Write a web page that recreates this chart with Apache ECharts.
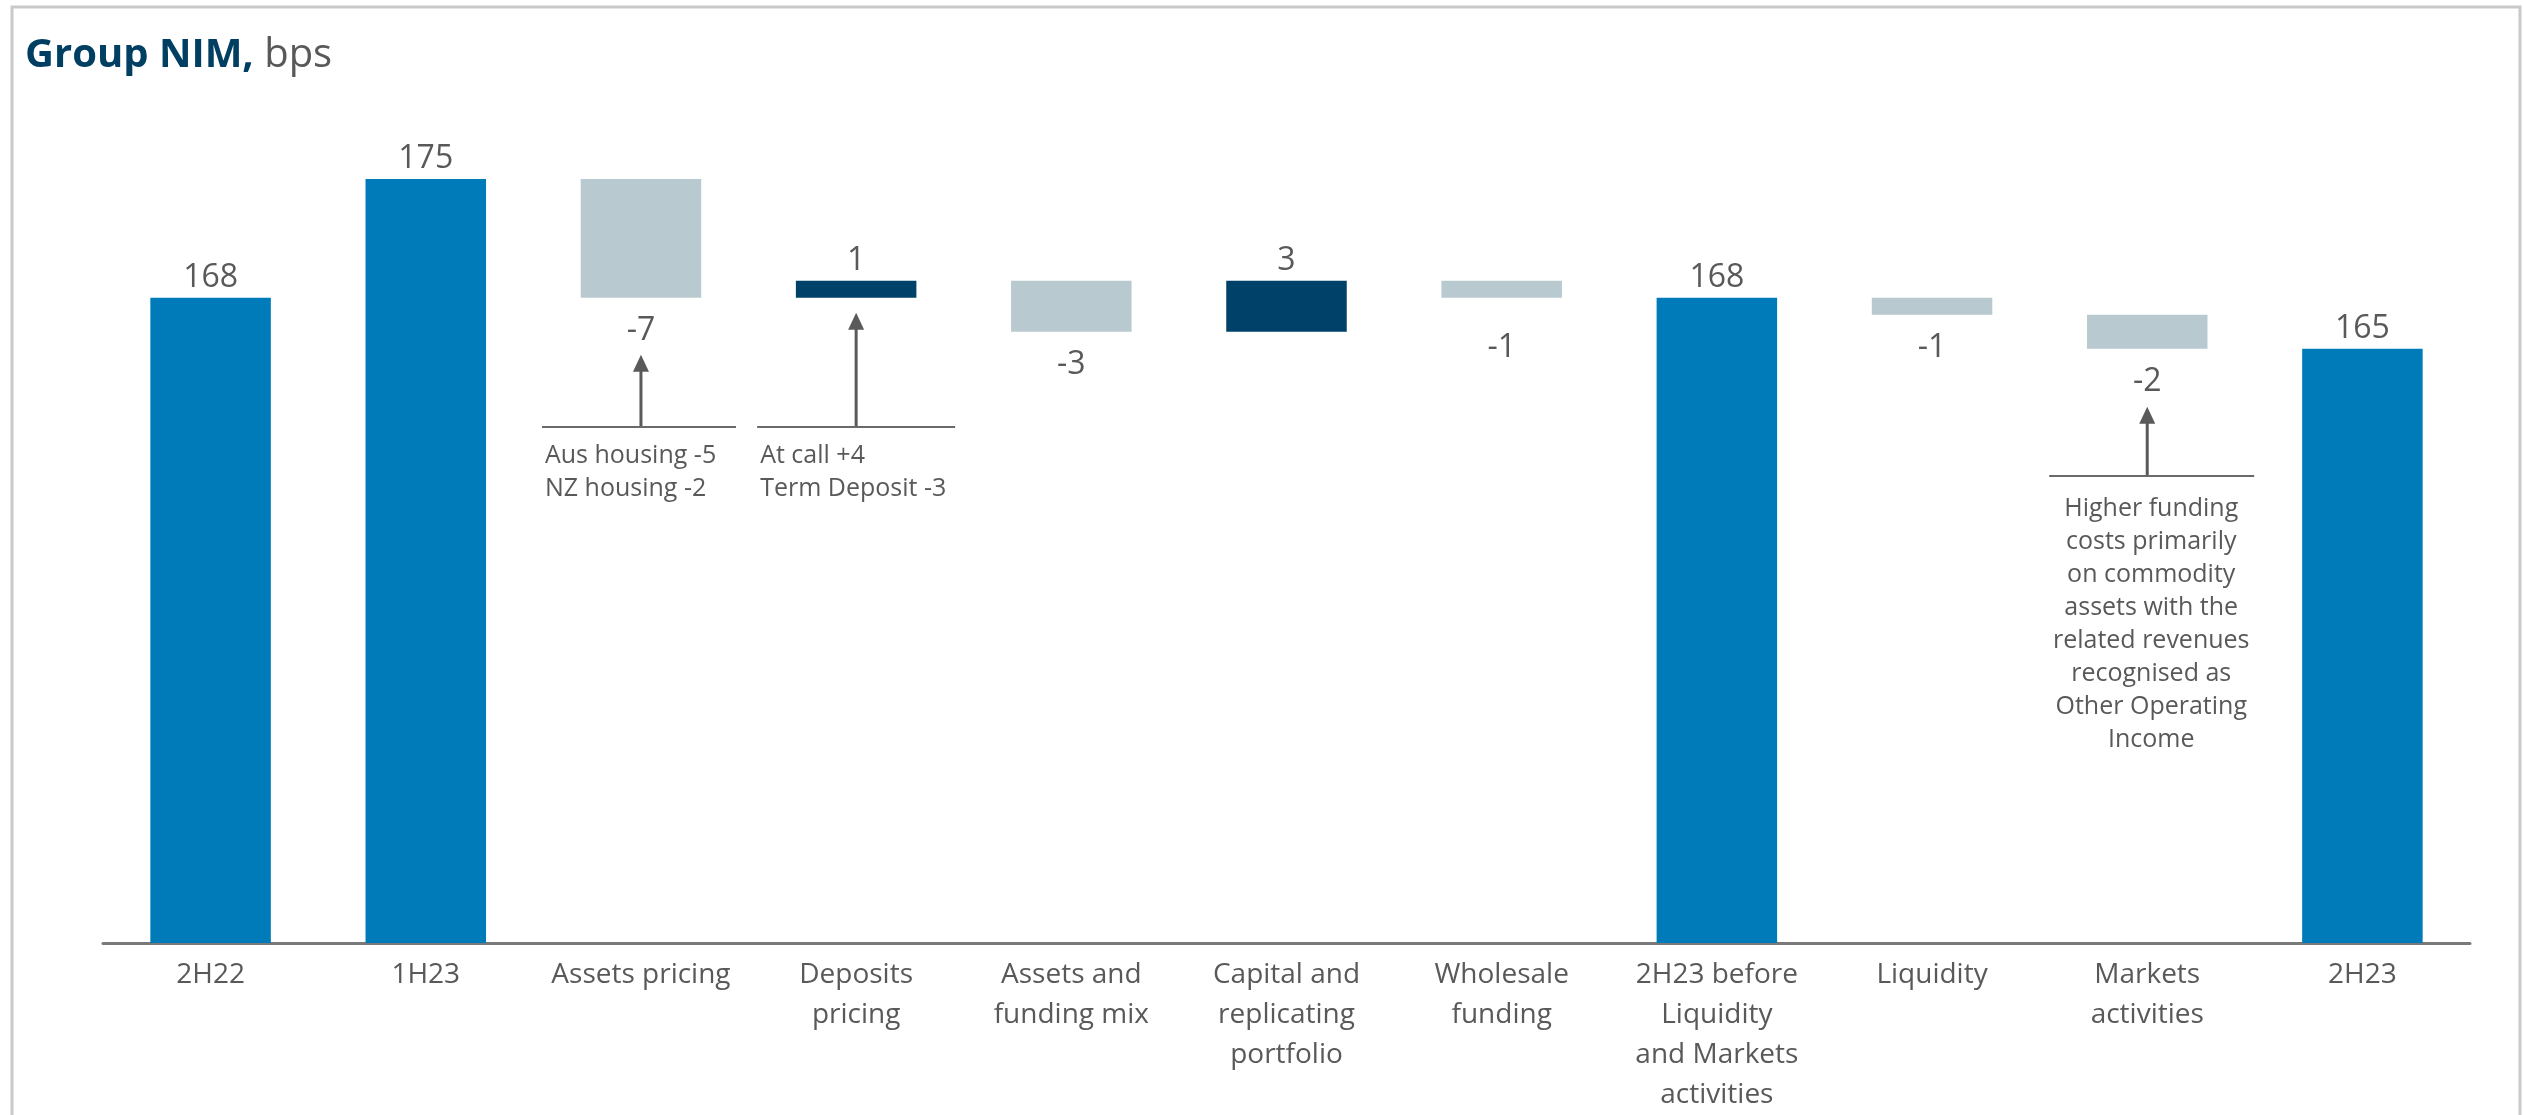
<!DOCTYPE html>
<html><head><meta charset="utf-8">
<script src="https://cdn.jsdelivr.net/npm/echarts@6/dist/echarts.min.js"></script>
<style>html,body{margin:0;padding:0;background:#fff}#c{width:2523px;height:1115px}</style>
</head><body><div id="c"></div>
<script>
const categories = ['2H22','1H23','Assets pricing','Deposits\npricing','Assets and\nfunding mix','Capital and\nreplicating\nportfolio','Wholesale\nfunding','2H23 before\nLiquidity\nand Markets\nactivities','Liquidity','Markets\nactivities','2H23'];
const values = [168, 175, -7, 1, -3, 3, -1, 168, -1, -2, 165];
const kinds = ['total','total','delta','delta','delta','delta','delta','total','delta','delta','total'];
const annotationIndex = [2, 3, 9];
const annotationText = [
  ['Aus housing -5','NZ housing -2'],
  ['At call +4','Term Deposit -3'],
  ['Higher funding','costs primarily','on commodity','assets with the','related revenues','recognised as','Other Operating','Income']
];

// layout only (pixels)
const annoLayout = [
  {tipGap:57, lineY:427, left:-99, right:95, align:'left', textDx:3, textGap:12},
  {tipGap:15, lineY:427, left:-99, right:99, align:'left', textDx:3, textGap:12},
  {tipGap:58, lineY:476, left:-98, right:107, align:'center', textDx:4, textGap:16}
];

const C_TOTAL = '#007BBA', C_UP = '#00416A', C_DOWN = '#B8C9D0', C_TEXT = '#595959';
const FONT = '"Open Sans", "Noto Sans", sans-serif';

let running = 0;
const baseData = [], barData = [], ends = [];
values.forEach((v, i) => {
  if (kinds[i] === 'total') {
    running = v;
    baseData.push(0);
    barData.push({value: v, itemStyle: {color: C_TOTAL}, label: {position: 'top', distance: 4}});
    ends.push({lo: 0, hi: v});
  } else {
    const s = running, e = running + v;
    baseData.push(Math.min(s, e));
    const item = {value: Math.abs(v), itemStyle: {color: v >= 0 ? C_UP : C_DOWN},
                  label: v >= 0 ? {position: 'top', distance: 4} : {position: 'bottom', distance: 17}};
    if (i === 6) item.label.offset = [0, 17];
    barData.push(item);
    ends.push({lo: Math.min(s, e), hi: Math.max(s, e)});
    running = e;
  }
});

const chart = echarts.init(document.getElementById('c'), null, {renderer: 'canvas'});
const option = {
  animation: false,
  backgroundColor: '#ffffff',
  grid: {left: 103, right: 53, top: 94, bottom: 171, containLabel: false},
  xAxis: {
    type: 'category', data: categories,
    axisLine: {lineStyle: {color: '#7a7a7a', width: 3}},
    axisTick: {show: false},
    axisLabel: {color: C_TEXT, fontFamily: FONT, fontSize: 28, lineHeight: 40, margin: 12, interval: 0}
  },
  yAxis: {type: 'value', min: 130, max: 180, show: false, splitLine: {show: false}},
  series: [
    {type: 'bar', stack: 'w', data: baseData, itemStyle: {color: 'rgba(0,0,0,0)'}, barWidth: '56%', silent: true},
    {type: 'bar', stack: 'w', data: barData, barWidth: '56%',
     label: {show: true, color: C_TEXT, fontFamily: FONT, fontSize: 32,
             formatter: p => String(values[p.dataIndex])}}
  ]
};
chart.setOption(option);

function buildGraphics() {
  const g = [];
  g.push({type: 'rect', shape: {x: 12, y: 7, width: 2508, height: 1300}, style: {fill: 'none', stroke: '#c9c9c9', lineWidth: 3}, silent: true});
  g.push({type: 'text', left: 25, top: 36, style: {
    text: '{a|Group NIM,}{b| bps}',
    rich: {
      a: {fontFamily: FONT, fontWeight: 'bold', fontSize: 40, fill: '#003E62'},
      b: {fontFamily: FONT, fontSize: 40, fill: C_TEXT}
    }
  }});
  annotationIndex.forEach((ci, k) => {
    const L = annoLayout[k];
    const pt = chart.convertToPixel({xAxisIndex: 0, yAxisIndex: 0}, [ci, ends[ci].lo]);
    const cx = pt[0], bottomPx = pt[1];
    const tipY = bottomPx + L.tipGap;
    const col = '#5a5a5a';
    g.push({type: 'line', shape: {x1: cx, y1: tipY + 12, x2: cx, y2: L.lineY - 1}, style: {stroke: col, lineWidth: 3}});
    g.push({type: 'polygon', shape: {points: [[cx, tipY], [cx - 8, tipY + 17], [cx + 8, tipY + 17]]}, style: {fill: col}});
    g.push({type: 'line', shape: {x1: cx + L.left, y1: L.lineY, x2: cx + L.right, y2: L.lineY}, style: {stroke: '#6a6a6a', lineWidth: 2}});
    const tx = L.align === 'left' ? cx + L.left + L.textDx : cx + L.textDx;
    g.push({type: 'text', x: tx, y: L.lineY + L.textGap, style: {
      text: annotationText[k].join('\n'), fill: C_TEXT, fontFamily: FONT, fontSize: 25, lineHeight: 33,
      align: L.align, verticalAlign: 'top'
    }});
  });
  chart.setOption({graphic: g});
}
buildGraphics();
</script>
</body></html>
